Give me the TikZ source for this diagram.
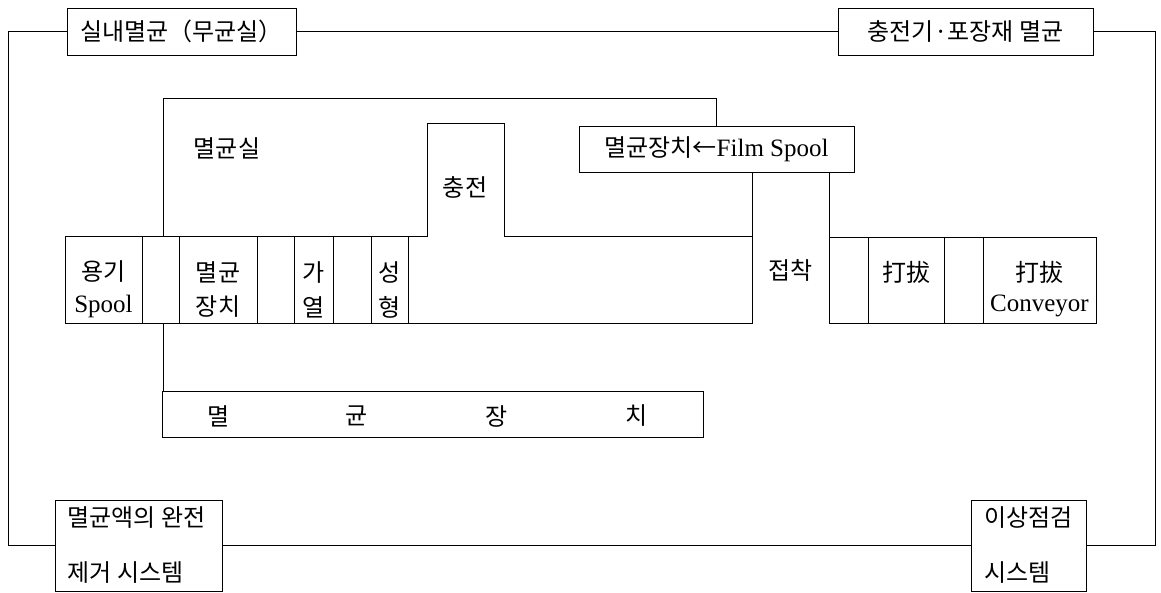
\documentclass[tikz,border=0pt]{standalone}
\usepackage{fontspec}
\setmainfont{Liberation Serif}
\newfontfamily\kr{Noto Sans CJK KR}
\begin{document}
\begin{tikzpicture}[x=1pt,y=-1pt,line width=1pt,
  every node/.style={inner sep=0pt},
  kt/.style={font=\kr\fontsize{24}{28}\selectfont},
  lt/.style={font=\fontsize{25}{28}\selectfont},
  boxn/.style={draw,line width=1pt,minimum width=#1},
]
\useasboundingbox (0,0) rectangle (1161,592);
% ---- outer loop boxes
\node[boxn=229pt,minimum height=47pt,kt] (b1) at (181.5,31.5) {실내멸균（무균실）};
\node[boxn=255pt,minimum height=47pt,kt] (b2) at (965.5,31.5) {충전기·포장재 멸균};
\node[boxn=167pt,minimum height=91pt] (b3) at (138.5,545.5) {};
\node[boxn=115pt,minimum height=91pt] (b4) at (1028.5,545.5) {};
\node[kt,anchor=west] (b3a) at (67,518) {멸균액의 완전};
\node[kt,anchor=west] (b3b) at (67,573) {제거 시스템};
\node[kt,anchor=west] (b4a) at (984,518) {이상점검};
\node[kt,anchor=west] (b4b) at (984,573) {시스템};
\coordinate (tl) at (8,31.5);
\coordinate (tr) at (1155,31.5);
\coordinate (bl) at (8,545.5);
\coordinate (br) at (1155,545.5);
\draw (b1.west) -- (tl) -- (bl) -- (b3.west);
\draw (b1.east) -- (b2.west);
\draw (b2.east) -- (tr) -- (br) -- (b4.east);
\draw (b3.east) -- (b4.west);
% ---- film spool box
\node[boxn=275pt,minimum height=46pt,lt] (fs) at (716.5,149)
  {{\kr\fontsize{24}{28}\selectfont 멸균장치←}Film Spool};
% ---- sterilising room outline
\draw (163,236) -- (163,98) -- (716,98) -- (716,126);
\draw (65,236) -- (427,236) -- (427,123) -- (504,123) -- (504,236) -- (752,236);
% bonding column
\draw (752,172) -- (752,323.5);
\draw (829,172) -- (829,323.5);
% process row left part
\draw (65,236) -- (65,323.5) -- (752,323.5);
\foreach \x in {142,179,257,294,333,371,408} \draw (\x,236) -- (\x,323.5);
% process row right part
\draw (829,237) -- (1096,237) -- (1096,323.5) -- (829,323.5);
\foreach \x in {868,944,983} \draw (\x,237) -- (\x,323.5);
% lower steriliser
\node[boxn=541pt,minimum height=46pt] (ms) at (432.5,414) {};
\draw (163,323.5) -- (ms.north -| 163,391);
% ---- texts
\node[kt] (t1) at (227,148) {멸균실};
\node[kt] (t2) at (465,187) {충전};
\node[kt] (c1a) at (103.5,272) {용기};
\node[lt] (c1b) at (103.5,306) {Spool};
\node[kt] (c2a) at (218,272) {멸균};
\node[kt] (c2b) at (218,307) {장치};
\node[kt] (c3a) at (313.5,272) {가};
\node[kt] (c3b) at (313.5,307) {열};
\node[kt] (c4a) at (389.5,272) {성};
\node[kt] (c4b) at (389.5,307) {형};
\node[kt] (c5) at (790.5,270) {접착};
\node[kt] (c6) at (906,272) {打拔};
\node[kt] (c7a) at (1039.5,272) {打拔};
\node[lt] (c7b) at (1039.5,306) {Conveyor};
\node[kt] (m1) at (219,416) {멸};
\node[kt] (m2) at (357,416) {균};
\node[kt] (m3) at (497,416) {장};
\node[kt] (m4) at (637,416) {치};
\end{tikzpicture}
\end{document}
